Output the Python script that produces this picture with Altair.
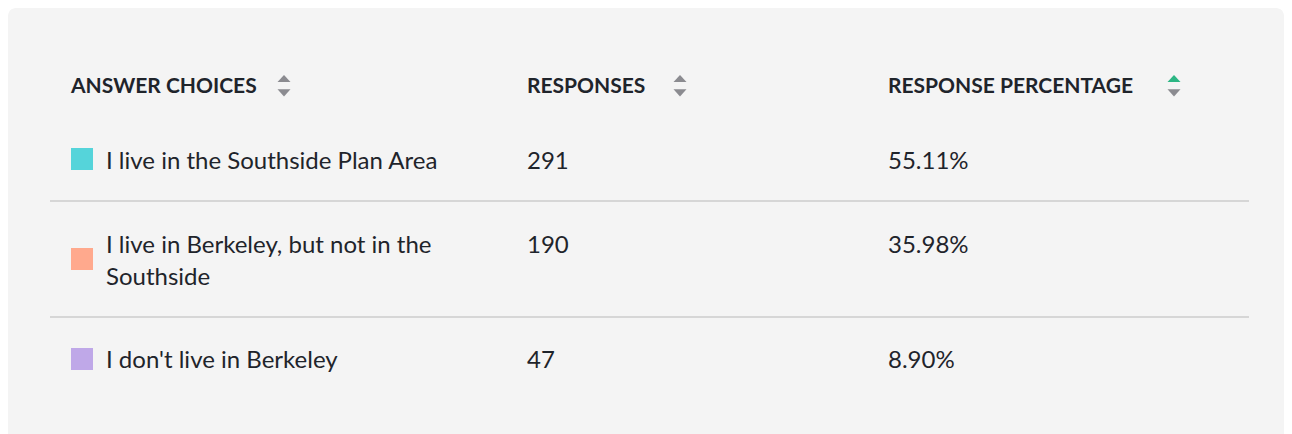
import altair as alt
import pandas as pd

# ---- data ----
headers = ["ANSWER CHOICES", "RESPONSES", "RESPONSE PERCENTAGE"]
choices = [
    "I live in the Southside Plan Area",
    "I live in Berkeley, but not in the\nSouthside",
    "I don't live in Berkeley",
]
responses = [291, 190, 47]
percentages = ["55.11%", "35.98%", "8.90%"]
swatch_colors = ["#55d4da", "#ffa98d", "#bfa8e8"]
sorted_column = "RESPONSE PERCENTAGE"

# ---- layout (pixels, chart coordinates) ----
W, H = 1276, 426
FONT = "Lato"
TEXT_COLOR = "#1f242b"
col_x = [63, 519, 880]           # left edge of each column
icon_x = [276, 672, 1166]        # sort-icon centres
header_base = 84
row_base = [160, 244, 359]       # text baseline of each row's first line
swatch_y = [150, 250, 350]
rule_y = [192, 308]
LINE_H = 31.5

rows = pd.DataFrame({
    "choice": choices,
    "responses": [str(r) for r in responses],
    "pct": percentages,
    "color": swatch_colors,
    "base": row_base,
    "sy": swatch_y,
})
hdr = pd.DataFrame({"header": headers, "x": col_x})
icons = pd.DataFrame({
    "x": icon_x + icon_x,
    "y": [69.5] * 3 + [83.8] * 3,
    "dir": ["up"] * 3 + ["down"] * 3,
    "color": [
        "#2cb684" if (h == sorted_column) else "#8b8b90" for h in headers
    ] + ["#8b8b90"] * 3,
})
rules = pd.DataFrame({"y": rule_y})

panel = alt.Chart(pd.DataFrame({"a": [0]})).mark_rect(
    color="#f4f4f4", cornerRadius=8
).encode(
    x=alt.value(0), x2=alt.value("width"), y=alt.value(-1), y2=alt.value(H + 30)
)

header_text = alt.Chart(hdr).mark_text(
    align="left", baseline="alphabetic", font=FONT, fontSize=21,
    fontWeight="bold", color=TEXT_COLOR
).encode(
    x=alt.X("x:Q", scale=None), y=alt.value(header_base), text="header:N"
)

up_path = "M-1,0.55L1,0.55L0,-0.55Z"
down_path = "M-1,-0.55L1,-0.55L0,0.55Z"
icon_up = alt.Chart(icons).transform_filter(alt.datum.dir == "up").mark_point(
    shape=up_path, filled=True, size=169, opacity=1, strokeWidth=0
).encode(
    x=alt.X("x:Q", scale=None), y=alt.Y("y:Q", scale=None),
    color=alt.Color("color:N", scale=None)
)
icon_down = alt.Chart(icons).transform_filter(alt.datum.dir == "down").mark_point(
    shape=down_path, filled=True, size=169, opacity=1, strokeWidth=0
).encode(
    x=alt.X("x:Q", scale=None), y=alt.Y("y:Q", scale=None),
    color=alt.Color("color:N", scale=None)
)

swatches = alt.Chart(rows).mark_point(
    shape="square", filled=True, size=484, opacity=1, strokeWidth=0
).encode(
    x=alt.value(74), y=alt.Y("sy:Q", scale=None),
    color=alt.Color("color:N", scale=None)
)

body_style = dict(align="left", baseline="alphabetic", font=FONT, fontSize=24,
                  color=TEXT_COLOR, lineBreak="\n", lineHeight=LINE_H)
label_text = alt.Chart(rows).mark_text(**body_style).encode(
    x=alt.value(98), y=alt.Y("base:Q", scale=None), text="choice:N"
)
resp_text = alt.Chart(rows).mark_text(**body_style).encode(
    x=alt.value(col_x[1]), y=alt.Y("base:Q", scale=None), text="responses:N"
)
pct_text = alt.Chart(rows).mark_text(**body_style).encode(
    x=alt.value(col_x[2]), y=alt.Y("base:Q", scale=None), text="pct:N"
)

rule_marks = alt.Chart(rules).mark_rule(color="#d6d6d6", strokeWidth=2).encode(
    x=alt.value(42), x2=alt.value(1241), y=alt.Y("y:Q", scale=None)
)

chart = alt.layer(
    panel, rule_marks, header_text, icon_up, icon_down, swatches,
    label_text, resp_text, pct_text
).properties(
    width=W, height=H, padding=0, background="white",
    autosize=alt.AutoSizeParams(type="fit", contains="padding"),
).configure_view(stroke=None)

chart.save("out.html", embed_options={"renderer": "svg", "actions": False})
